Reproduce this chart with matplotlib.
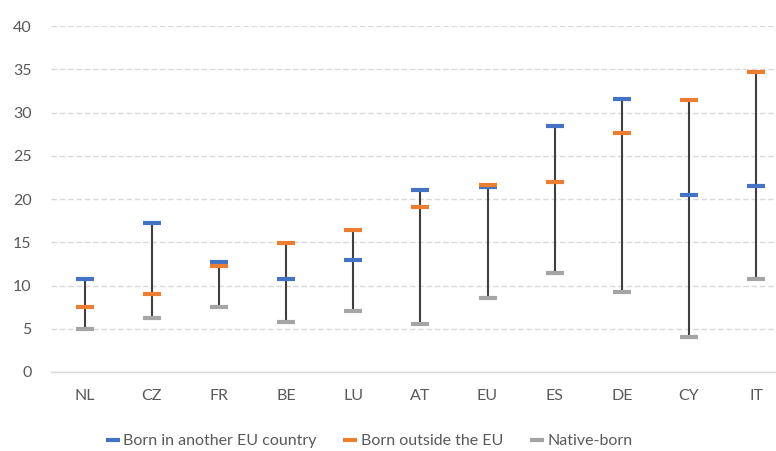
import matplotlib.pyplot as plt
import numpy as np

plt.rcParams['font.family'] = ['Lato', 'DejaVu Sans']

countries = ['NL', 'CZ', 'FR', 'BE', 'LU', 'AT', 'EU', 'ES', 'DE', 'CY', 'IT']
born_other_eu = [10.8, 17.2, 12.7, 10.8, 13.0, 21.0, 21.4, 28.5, 31.6, 20.5, 21.5]
born_outside_eu = [7.5, 9.0, 12.2, 14.9, 16.4, 19.1, 21.6, 22.0, 27.6, 31.4, 34.7]
native_born = [5.0, 6.2, 7.5, 5.8, 7.0, 5.6, 8.5, 11.4, 9.2, 4.0, 10.7]

x = np.arange(len(countries))
lows = np.minimum.reduce([born_other_eu, born_outside_eu, native_born])
highs = np.maximum.reduce([born_other_eu, born_outside_eu, native_born])

fig = plt.figure(figsize=(7.76, 4.51), dpi=100)
ax = fig.add_axes([0.0657, 0.1752, 0.952, 0.767])

# high-low lines
ax.vlines(x, lows, highs, color='#404040', lw=1.5, zorder=2)

series = [
    ('Born in another EU country', born_other_eu, '#4472C4'),
    ('Born outside the EU', born_outside_eu, '#ED7D31'),
    ('Native-born', native_born, '#A5A5A5'),
]
for label, vals, col in series:
    ax.plot(x, vals, ls='none', marker='_', markersize=13, markeredgewidth=3,
            color=col, label=label, zorder=3)

ax.set_xlim(-0.5, len(countries) - 0.5)
ax.set_ylim(0, 40)
ax.set_yticks(range(0, 41, 5))
ax.set_xticks(x)
ax.set_xticklabels(countries)
ax.tick_params(axis='both', length=0, labelsize=11.5, labelcolor='#595959')
ax.tick_params(axis='x', pad=12)
ax.tick_params(axis='y', pad=14)

ax.yaxis.grid(True, ls=(0, (4, 2)), color='#D9D9D9', lw=1)
ax.set_axisbelow(True)
for s in ['top', 'right', 'left']:
    ax.spines[s].set_visible(False)
ax.spines['bottom'].set_color('#D9D9D9')
ax.spines['bottom'].set_linewidth(1)

leg = ax.legend(loc='center', bbox_to_anchor=(0.431, -0.2), ncol=3, frameon=False,
                fontsize=11.5, handlelength=0.8, handletextpad=0.25, columnspacing=1.7)
for t in leg.get_texts():
    t.set_color('#595959')
for h in leg.legend_handles:
    h.set_marker('_')
    h.set_markersize(10)

fig.savefig('out.png', dpi=100)
